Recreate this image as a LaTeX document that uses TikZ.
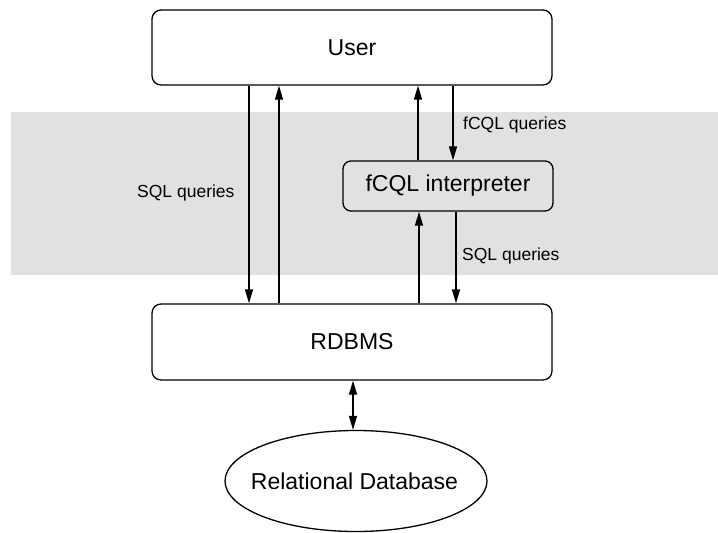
\documentclass[tikz,border=0pt]{standalone}
\usepackage{fontspec}
\setmainfont{Liberation Sans}
\usetikzlibrary{shapes.geometric,arrows.meta}
\definecolor{band}{RGB}{225,225,225}
\begin{document}
\begin{tikzpicture}[x=1pt,y=-1pt,
  box/.style={draw,line width=1.3pt,rounded corners=9pt,inner sep=0pt},
  big/.style={font=\fontsize{23}{27}\selectfont},
  conn/.style={line width=1.3pt,-{Triangle[length=14pt,width=8pt]}},
  lbl/.style={font=\fontsize{17.5}{21}\selectfont,inner sep=0pt,anchor=west}]
\useasboundingbox (0,0) rectangle (718,533);
\fill[band] (11,112) rectangle (718,275);
\node[box,fill=white,minimum width=400pt,minimum height=75pt,big] (user) at (352,47.5) {User};
\node[box,fill=white,minimum width=400pt,minimum height=76pt,big] (rdbms) at (352,342) {RDBMS};
\node[box,rounded corners=8pt,minimum width=210pt,minimum height=50pt,big] (fcql) at (448,186) {fCQL interpreter};
\node[draw,line width=1.3pt,ellipse,minimum width=262pt,minimum height=101pt,inner sep=0pt] (db) at (356,481) {};
\node[big,inner sep=0pt] (dbtext) at (354.5,481) {Relational Database};
% left pair
\draw[conn] (user.south -| 249,0) -- (rdbms.north -| 249,0);
\draw[conn] (rdbms.north -| 279,0) -- (user.south -| 279,0);
% upper right pair
\draw[conn] (fcql.north -| 418,0) -- (user.south -| 418,0);
\draw[conn] (user.south -| 453,0) -- (fcql.north -| 453,0);
% lower right pair
\draw[conn] (rdbms.north -| 419,0) -- (fcql.south -| 419,0);
\draw[conn] (fcql.south -| 456,0) -- (rdbms.north -| 456,0);
% db link
\draw[line width=1.3pt,{Triangle[length=14pt,width=8pt]}-{Triangle[length=14pt,width=8pt]}] (rdbms.south -| 353,0) -- (db.north -| 353,0);
% labels
\node[lbl] (l1) at (137,193) {SQL queries};
\node[lbl] (l2) at (463,125) {fCQL queries};
\node[lbl] (l3) at (462,256) {SQL queries};
\end{tikzpicture}
\end{document}
